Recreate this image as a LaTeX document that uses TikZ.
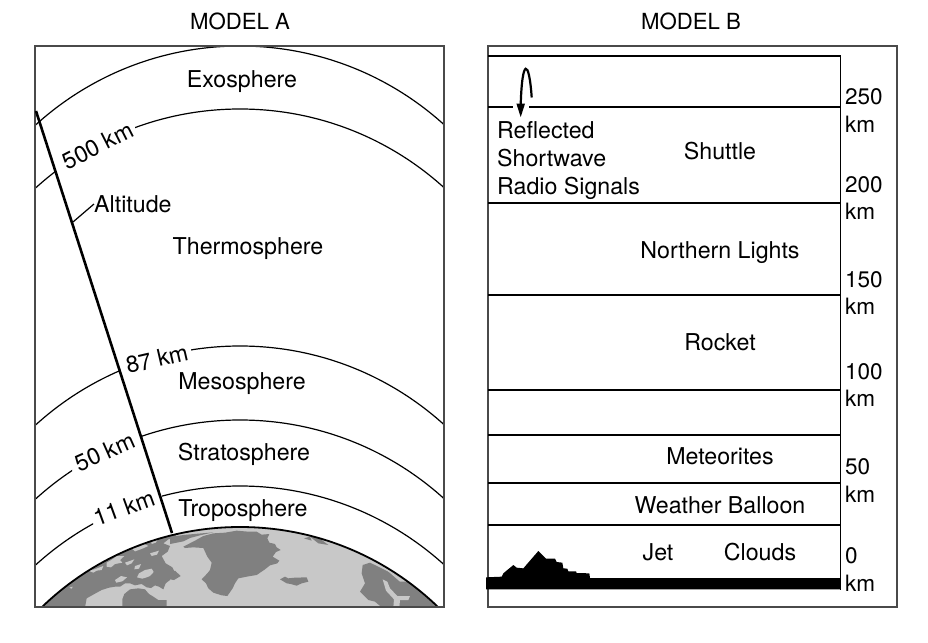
\documentclass[tikz,border=0pt]{standalone}
\usepackage{fontspec}
\setmainfont{TeX Gyre Heros}
\usetikzlibrary{arrows.meta}
\definecolor{seaL}{HTML}{C8C8C8}
\definecolor{landD}{HTML}{808080}
\definecolor{frameC}{HTML}{4A4A4A}
\tikzset{
  lbl/.style={inner sep=0pt,text height=16pt,text depth=0pt,font=\fontsize{23.2}{25}\selectfont},
  lblL/.style={lbl,anchor=west},
  scaleL/.style={lblL,font=\fontsize{22.5}{25}\selectfont},
  titleL/.style={lbl,font=\fontsize{22.2}{25}\selectfont},
  frameL/.style={draw=frameC,line width=1.6pt},
  thin line/.style={draw=black,line width=1.2pt},
  land/.style={fill=landD,draw=none},
  sea/.style={fill=seaL,draw=none}
}
\newcommand{\atmarc}[3]{% centre y, x from, x to
  \begin{scope}
    \clip (#2,0) rectangle (#3,#1);
    \draw[thin line] (240,#1) circle [radius=304];
  \end{scope}}
\begin{document}
\begin{tikzpicture}[x=1pt,y=-1pt]
\useasboundingbox (0,0) rectangle (928,642);
\fill[white] (0,0) rectangle (928,642);
% ---------- Model A
\node[titleL] (titleA) at (240,22) {MODEL A};
\begin{scope}
  \clip (35,46) rectangle (444,607);
  \atmarc{350}{35}{444}
  \atmarc{413}{35}{55}
  \atmarc{413}{135}{444}
  \atmarc{650}{35}{120}
  \atmarc{650}{191}{444}
  \atmarc{724}{35}{72}
  \atmarc{724}{140}{444}
  \atmarc{790}{35}{93}
  \atmarc{790}{162}{444}
  % Earth
  \begin{scope}
    \clip (240,812) circle [radius=285];
    \fill[seaL] (35,520) rectangle (444,607);
    % Canada and arctic islands
    \begin{scope}[shift={(35,520)},scale=1/3]
      \path[land] (10,262) -- (60,195) -- (110,150) -- (165,110) -- (230,75) -- (300,52) -- (360,40) -- (425,30)
        -- (422,52) -- (400,58) -- (385,70) -- (405,78) -- (398,95) -- (380,108) -- (392,130) -- (412,142) -- (420,158)
        -- (408,165) -- (405,180) -- (392,190) -- (385,208) -- (372,200) -- (360,196) -- (348,204) -- (335,202) -- (320,192)
        -- (300,196) -- (285,190) -- (270,190) -- (255,200) -- (240,200) -- (222,203) -- (200,210) -- (178,222) -- (155,235) -- (150,262) -- cycle;
      \path[land] (262,262) -- (262,238) -- (268,222) -- (285,208) -- (310,205) -- (330,208) -- (342,222) -- (352,228) -- (370,240) -- (395,240) -- (395,262) -- cycle;
      \path[sea] (160,152) -- (178,148) -- (205,138) -- (200,150) -- (185,152) -- (175,158) -- cycle;
      \path[sea] (215,128) -- (232,118) -- (245,108) -- (268,108) -- (255,120) -- (262,128) -- (240,132) -- (228,142) -- (215,140) -- cycle;
      \path[sea] (270,128) -- (298,118) -- (290,130) -- (276,136) -- cycle;
      \path[sea] (290,85) -- (312,80) -- (328,72) -- (340,78) -- (322,86) -- (300,94) -- cycle;
      \path[sea] (348,62) -- (370,56) -- (362,68) -- (350,72) -- cycle;
      \path[sea] (345,100) -- (372,92) -- (366,104) -- (350,108) -- cycle;
      \path[sea] (312,160) -- (330,150) -- (350,146) -- (356,156) -- (345,168) -- (335,172) -- (322,176) -- (306,172) -- cycle;
      \path[sea] (240,180) -- (258,168) -- (276,172) -- (262,184) -- (244,188) -- cycle;
      \path[sea] (300,138) -- (318,132) -- (312,146) -- (298,148) -- cycle;
      \path[sea] (103,203) -- (113,200) -- (110,206) -- cycle;
    \end{scope}
    % Greenland
    \begin{scope}[shift={(170,520)},scale=1/3]
      \path[land] (40,80) -- (75,62) -- (100,48) -- (130,40) -- (165,38) -- (200,32) -- (235,35) -- (260,35) -- (275,44) -- (298,42)
        -- (292,55) -- (298,68) -- (315,72) -- (320,82) -- (332,90) -- (318,96) -- (308,110) -- (328,122) -- (322,130) -- (300,136)
        -- (285,148) -- (260,165) -- (230,170) -- (205,175) -- (195,190) -- (188,205) -- (172,228) -- (155,226) -- (130,218) -- (115,205) -- (108,190)
        -- (95,178) -- (112,160) -- (120,150) -- (125,128) -- (112,110) -- (100,84) -- (70,82) -- (45,84) -- cycle;
      \path[land] (0,50) -- (50,44) -- (130,37) -- (90,46) -- (60,54) -- (40,64) -- (10,70) -- (0,72) -- cycle;
      \path[land] (0,160) -- (15,152) -- (32,168) -- (12,180) -- (0,178) -- cycle;
      \path[land] (330,178) -- (345,170) -- (355,175) -- (375,173) -- (410,172) -- (415,185) -- (395,190) -- (380,197) -- (362,192) -- (350,190) -- cycle;
      \path[land] (402,55) -- (420,50) -- (425,62) -- cycle;
      \path[sea] (95,130) -- (118,124) -- (122,138) -- (100,145) -- cycle;
    \end{scope}
    % Scandinavia
    \begin{scope}[shift={(310,520)},scale=1/3]
      \path[land] (0,50) -- (25,52) -- (55,75) -- (25,70) -- cycle;
      \path[land] (158,135) -- (180,128) -- (215,145) -- (255,165) -- (290,185) -- (340,215) -- (395,262) -- (215,262)
        -- (195,245) -- (175,240) -- (150,215) -- (165,190) -- (155,160) -- cycle;
      \path[sea] (218,178) -- (232,185) -- (240,205) -- (262,228) -- (300,228) -- (295,240) -- (270,240) -- (268,262)
        -- (250,262) -- (252,238) -- (228,212) -- cycle;
      \path[sea] (230,150) -- (290,185) -- (270,185) -- cycle;
    \end{scope}
  \end{scope}
  \draw[black,line width=1.8pt] (240,812) circle [radius=285];
\end{scope}
\draw[frameL] (35,46) rectangle (444,607);
% altitude line
\coordinate (altTop) at (36,111);
\coordinate (altBot) at (172,533);
\draw[black,line width=2.6pt] (altTop) -- (altBot);
\node[lbl] (km500) at (98,146) [rotate=27] {500 km};
\node[lbl] (km87) at (157,359) [rotate=13] {87 km};
\node[lbl] (km50) at (105,452) [rotate=24] {50 km};
\node[lbl] (km11) at (124,508) [rotate=20] {11 km};
\node[lblL] (altitude) at (94,204) {Altitude};
\coordinate (altFoot) at (73,222);
\draw[thin line] (altFoot) -- (altitude.west);
\node[lbl] (exo) at (242,79) {Exosphere};
\node[lbl] (thermo) at (248,246) {Thermosphere};
\node[lbl] (meso) at (242,381) {Mesosphere};
\node[lbl] (strato) at (244,452) {Stratosphere};
\node[lbl] (tropo) at (243,508) {Troposphere};
% ---------- Model B
\node[titleL] (titleB) at (691,22) {MODEL B};
\draw[frameL] (488,46) rectangle (897,607);
\draw[thin line] (488,56) -- (840.5,56);
\draw[thin line] (840.5,56) -- (840.5,590);
\draw[thin line] (488,107) -- (513,107);
\draw[thin line] (529,107) -- (840.5,107);
\foreach \yy in {203,295,390,435,483,525}
  \draw[thin line] (488,\yy) -- (840.5,\yy);
% ground and mountain
\begin{scope}[shift={(480,520)},scale=1/3]
  \fill[black] (18,172) -- (65,170) -- (70,160) -- (100,135) -- (110,143) -- (130,145) -- (175,93) -- (198,116)
    -- (225,116) -- (230,126) -- (247,128) -- (250,145) -- (262,146) -- (265,154) -- (288,154) -- (290,159)
    -- (328,160) -- (330,174) -- (1081,174) -- (1081,208) -- (18,208) -- cycle;
\end{scope}
% reflected signal
\coordinate (sigStart) at (531.7,97.5);
\coordinate (sigEnd) at (520.7,117.5);
\draw[black,line width=2.2pt,-{Stealth[length=14pt,width=8pt,inset=0pt]}]
  (sigStart) .. controls (529,58) and (522,58) .. (520.7,105) -- (sigEnd);
\node[lblL] (r1) at (497,130) {Reflected};
\node[lblL] (r2) at (497,158) {Shortwave};
\node[lblL] (r3) at (497,186) {Radio Signals};
\node[lbl] (shuttle) at (720,151) {Shuttle};
\node[lbl] (lights) at (720,250) {Northern Lights};
\node[lbl] (rocket) at (720,342) {Rocket};
\node[lbl] (meteor) at (720,456) {Meteorites};
\node[lbl] (balloon) at (720,505) {Weather Balloon};
\node[lbl] (jet) at (658,552) {Jet};
\node[lbl] (clouds) at (760,552) {Clouds};
\node[scaleL] (s250) at (845,96) {250};
\node[scaleL] (u250) at (845,124) {km};
\node[scaleL] (s200) at (845,184) {200};
\node[scaleL] (u200) at (845,211) {km};
\node[scaleL] (s150) at (845,279) {150};
\node[scaleL] (u150) at (845,306) {km};
\node[scaleL] (s100) at (845,371) {100};
\node[scaleL] (u100) at (845,398) {km};
\node[scaleL] (s50) at (845,466) {50};
\node[scaleL] (u50) at (845,494) {km};
\node[scaleL] (s0) at (845,555) {0};
\node[scaleL] (u0) at (845,583) {km};
\end{tikzpicture}
\end{document}
